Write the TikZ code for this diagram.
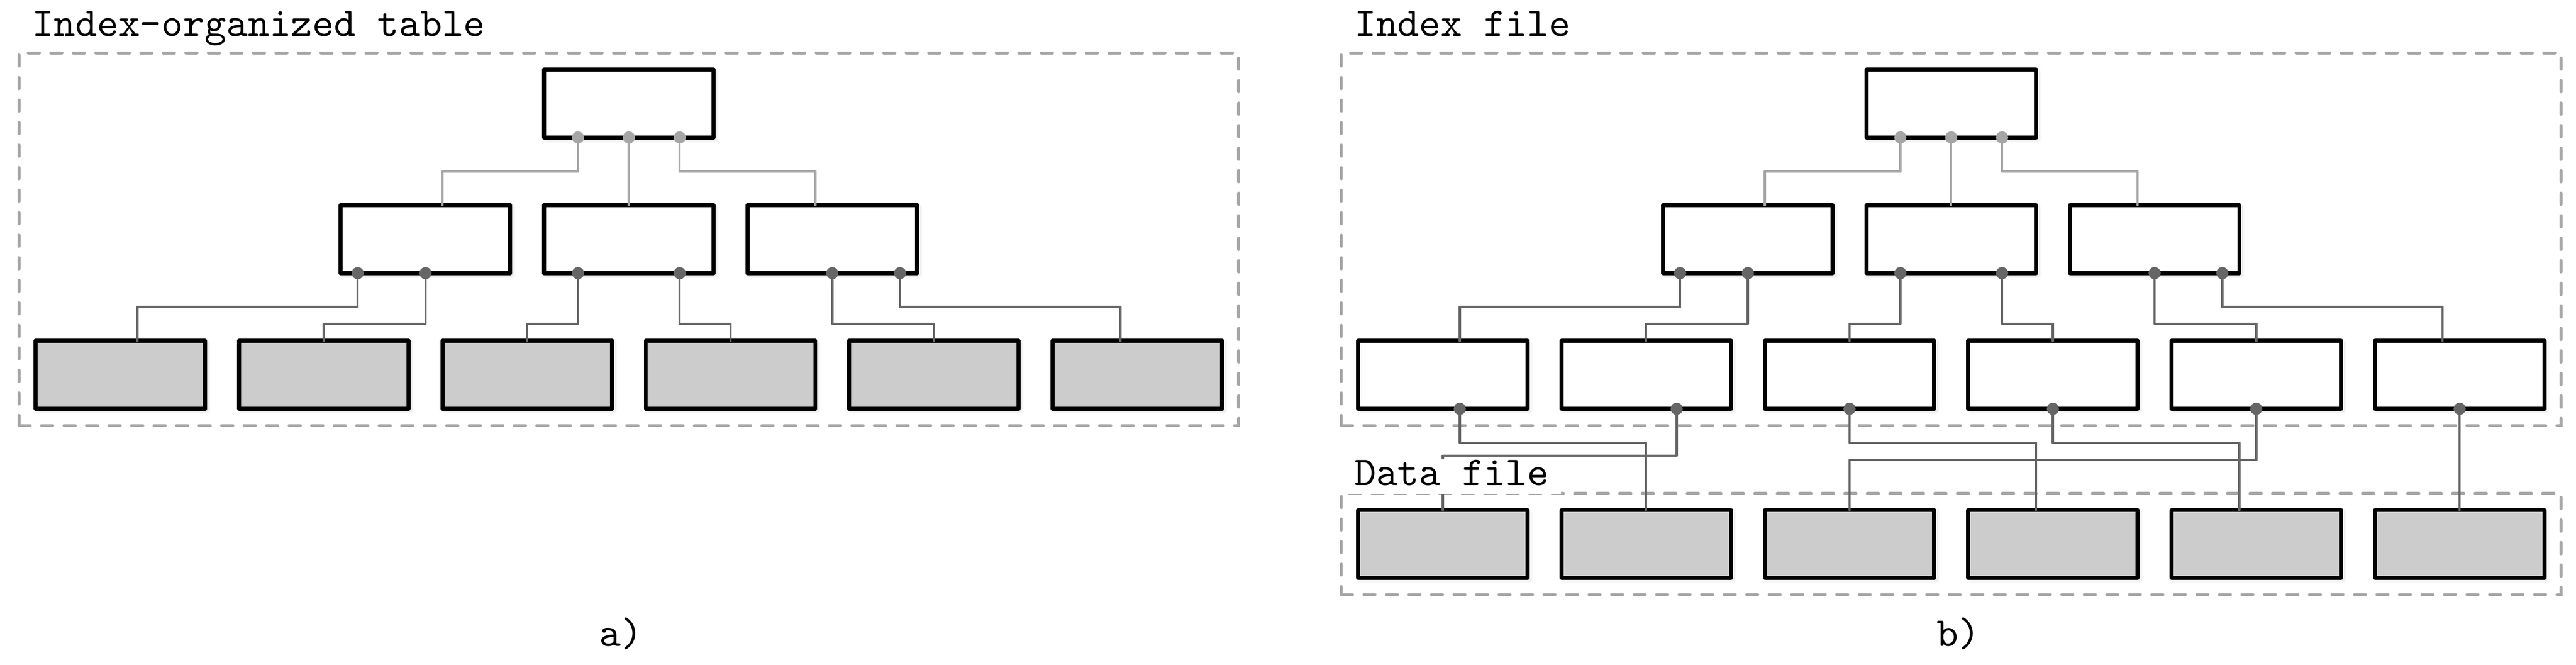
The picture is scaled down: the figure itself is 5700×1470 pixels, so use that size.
\documentclass[tikz,border=0pt]{standalone}
\usetikzlibrary{calc,fit,shadows.blur}
\colorlet{lightc}{gray!70}
\colorlet{darkc}{black!60}
\tikzset{
  box/.style={draw=black, line width=1.08pt, line join=round,
    minimum width=45.169pt, minimum height=18.068pt, inner sep=0pt, outer sep=0pt,
    blur shadow={shadow xshift=0.6pt, shadow yshift=-0.6pt, shadow blur radius=0.9pt, shadow opacity=18}},
  wbox/.style={box, fill=white},
  gbox/.style={box, fill=gray!40},
  frame/.style={draw=lightc, line width=0.8pt, dashed, line cap=round, inner sep=4.457pt},
  lconn/.style={draw=lightc, line width=0.6pt, line cap=round, line join=round},
  dconn/.style={draw=darkc, line width=0.6pt, line cap=round, line join=round},
  ldot/.style={circle, fill=lightc, inner sep=0pt, minimum size=3.252pt},
  ddot/.style={circle, fill=darkc, inner sep=0pt, minimum size=3.252pt},
  lbl/.style={font=\fontsize{10.95pt}{13pt}\selectfont\ttfamily, inner xsep=3.333pt, inner ysep=0pt,
    text height=6.866pt, text depth=2.289pt, anchor=base west, fill=white},
  capt/.style={font=\fontsize{10.95pt}{13pt}\selectfont\ttfamily, inner sep=0pt, anchor=base},
}
% #1 prefix, #2 x offset (px), #3 leaf style
\newcommand\mktree[3]{%
  \node[wbox] (#1t) at ({#2+1391.5},229) {};
  \node[wbox] (#1m1) at ({#2+941.5},529) {};
  \node[wbox] (#1m2) at ({#2+1391.5},529) {};
  \node[wbox] (#1m3) at ({#2+1841.5},529) {};
  \foreach \i in {1,...,6} {\node[#3] (#1l\i) at ({#2+266.5+450*(\i-1)},829) {};}
}
\newcommand\mkconn[1]{%
  \coordinate (#1a1) at ($(#1t.south west)!0.2!(#1t.south east)$);
  \coordinate (#1a2) at (#1t.south);
  \coordinate (#1a3) at ($(#1t.south west)!0.8!(#1t.south east)$);
  \coordinate (#1b1) at ($(#1m1.south west)!0.1!(#1m1.south east)$);
  \coordinate (#1b2) at (#1m1.south);
  \coordinate (#1b3) at ($(#1m2.south west)!0.2!(#1m2.south east)$);
  \coordinate (#1b4) at ($(#1m2.south west)!0.8!(#1m2.south east)$);
  \coordinate (#1b5) at (#1m3.south);
  \coordinate (#1b6) at ($(#1m3.south west)!0.9!(#1m3.south east)$);
  \coordinate (#1e1) at ($(#1m1.north west)!0.6!(#1m1.north east)$);
  \coordinate (#1e3) at ($(#1m3.north west)!0.4!(#1m3.north east)$);
  \coordinate (#1f1) at ($(#1l1.north west)!0.6!(#1l1.north east)$);
  \coordinate (#1f6) at ($(#1l6.north west)!0.4!(#1l6.north east)$);
  \draw[lconn] (#1a1) -- ++(0,75) -| (#1e1);
  \draw[lconn] (#1a2) -- (#1m2.north);
  \draw[lconn] (#1a3) -- ++(0,75) -| (#1e3);
  \draw[dconn] (#1b1) -- ++(0,75) -| (#1f1);
  \draw[dconn] (#1b2) -- ++(0,112) -| (#1l2.north);
  \draw[dconn] (#1b3) -- ++(0,112) -| (#1l3.north);
  \draw[dconn] (#1b4) -- ++(0,112) -| (#1l4.north);
  \draw[dconn] (#1b5) -- ++(0,112) -| (#1l5.north);
  \draw[dconn] (#1b6) -- ++(0,75) -| (#1f6);
  \foreach \k in {1,2,3} {\node[ldot] (#1ta\k) at (#1a\k) {};}
  \foreach \k in {1,...,6} {\node[ddot] (#1mb\k) at (#1b\k) {};}
}
\begin{document}
\begin{tikzpicture}[x=0.12045pt, y=-0.12045pt]
\useasboundingbox (0,0) rectangle (5700,1470);
% boxes
\mktree{a}{0}{gbox}
\mktree{b}{2926}{wbox}
\foreach \i in {1,...,6} {\node[gbox] (bD\i) at ({2926+266.5+450*(\i-1)},1203) {};}
% frames
\node[frame, fit=(at)(al1)(al6)] (aframe) {};
\node[frame, fit=(bt)(bl1)(bl6)] (bframe) {};
\node[frame, fit=(bD1)(bD6)] (dframe) {};
% connectors
\mkconn{a}
\mkconn{b}
\coordinate (bc1) at ($(bl1.south west)!0.6!(bl1.south east)$);
\coordinate (bc2) at ($(bl2.south west)!0.68!(bl2.south east)$);
\coordinate (bc3) at (bl3.south);
\coordinate (bc4) at (bl4.south);
\coordinate (bc5) at (bl5.south);
\coordinate (bc6) at (bl6.south);
\coordinate (bg4) at ($(bD4.north west)!0.4!(bD4.north east)$);
\coordinate (bg5) at ($(bD5.north west)!0.4!(bD5.north east)$);
\draw[dconn] (bc1) -- ++(0,75) -| (bD2.north);
\draw[dconn] (bc2) -- ++(0,104) -| (bD1.north);
\draw[dconn] (bc3) -- ++(0,75) -| (bg4);
\draw[dconn] (bc4) -- ++(0,75) -| (bg5);
\draw[dconn] (bc5) -- ++(0,113) -| (bD3.north);
\draw[dconn] (bc6) -- (bD6.north);
\foreach \k in {1,...,6} {\node[ddot] (bld\k) at (bc\k) {};}
% labels
\node[lbl] (alab) at (42,80) {Index-organized table};
\node[lbl] (blab) at (2968,80) {Index file};
\node[lbl] (dlab) at (2968,1073) {Data file};
\node[capt] (acap) at (1374,1429) {a)};
\node[capt] (bcap) at (4334,1429) {b)};
\end{tikzpicture}
\end{document}
